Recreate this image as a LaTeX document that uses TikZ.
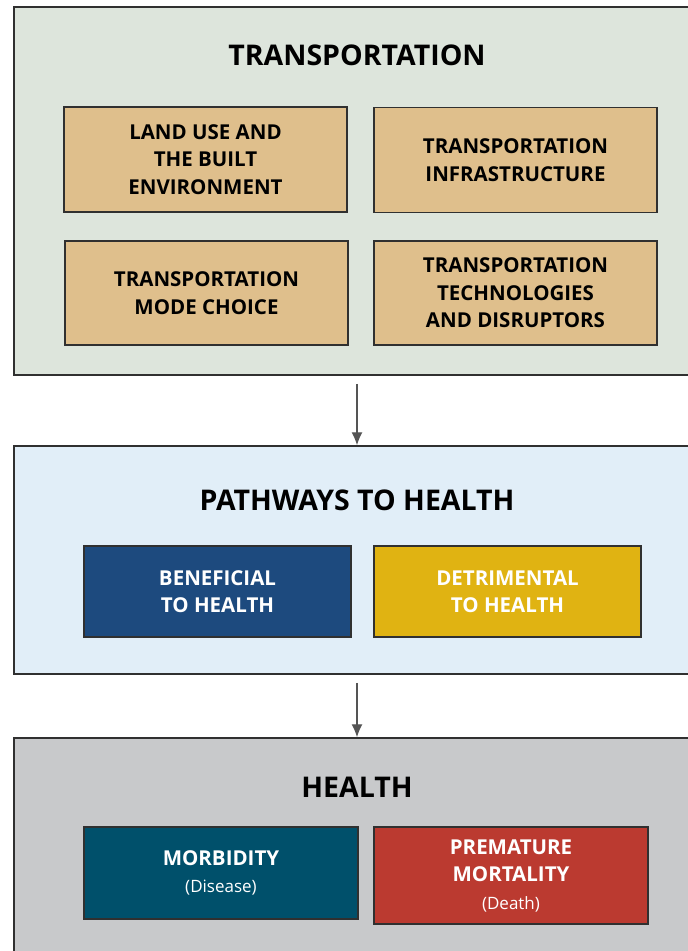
\documentclass[tikz,border=0pt]{standalone}
\usepackage{fontspec}
\usetikzlibrary{arrows.meta}
\setmainfont{Open Sans}
\definecolor{tgreen}{HTML}{DDE5DC}
\definecolor{ttan}{HTML}{DFBF8C}
\definecolor{pblue}{HTML}{E1EEF8}
\definecolor{bblue}{HTML}{1D4A7E}
\definecolor{dyel}{HTML}{E0B312}
\definecolor{hgray}{HTML}{C8C9CB}
\definecolor{mteal}{HTML}{00506B}
\definecolor{pred}{HTML}{BB3A30}
\definecolor{edge}{HTML}{303030}
\definecolor{arr}{HTML}{555555}
\begin{document}
\begin{tikzpicture}[x=1pt,y=-1pt,
  outer/.style={draw=edge,line width=1.5pt,minimum width=686pt,inner sep=0pt},
  title/.style={font=\fontsize{28.5}{32}\selectfont\bfseries,text=black},
  tanbox/.style={draw=edge,line width=1.4pt,fill=ttan,minimum width=283pt,minimum height=104pt,
    align=center,font=\fontsize{20.5}{27.5}\selectfont\bfseries,text=black,inner sep=0pt},
  colbox/.style={draw=edge,line width=1.4pt,align=center,
    font=\fontsize{20.5}{27.5}\selectfont\bfseries,text=white,inner sep=0pt},
  flow/.style={draw=arr,line width=1.3pt,-{Latex[length=13pt,width=11pt]},shorten <=8pt}
]
\useasboundingbox (0,0) rectangle (688,951);
\clip (0,0) rectangle (688,951);
\fill[white] (0,0) rectangle (688,951);

% outer panels
\node[outer,fill=tgreen,minimum height=368pt] (T) at (357,191) {};
\node[outer,fill=pblue,minimum height=228pt] (P) at (357,560) {};
\node[outer,fill=hgray,minimum height=222pt] (H) at (357,849) {};

% titles
\node[title] (tT) at (357,55) {TRANSPORTATION};
\node[title] (tP) at (357,500) {PATHWAYS TO HEALTH};
\node[title] (tH) at (357,787) {HEALTH};

% transportation boxes
\node[tanbox,minimum height=105pt] (lu) at (205.5,159.5) {LAND USE AND\\THE BUILT\\ENVIRONMENT};
\node[tanbox,minimum height=105pt] (ti) at (515.5,160) {TRANSPORTATION\\INFRASTRUCTURE};
\node[tanbox] (mc) at (206.5,293) {TRANSPORTATION\\MODE CHOICE};
\node[tanbox] (td) at (515.5,293) {TRANSPORTATION\\TECHNOLOGIES\\AND DISRUPTORS};

% pathways boxes
\node[colbox,fill=bblue,minimum width=267pt,minimum height=91pt] (bh) at (217.5,591.5) {BENEFICIAL\\TO HEALTH};
\node[colbox,fill=dyel,minimum width=267pt,minimum height=91pt] (dh) at (507.5,591.5) {DETRIMENTAL\\TO HEALTH};

% health boxes
\node[colbox,fill=mteal,minimum width=274pt,minimum height=92pt] (mo) at (221,873) {MORBIDITY\\{\fontsize{17}{22}\selectfont\mdseries (Disease)}};
\node[colbox,fill=pred,minimum width=274pt,minimum height=97pt] (pm) at (511,875.5) {PREMATURE\\MORTALITY\\{\fontsize{17}{22}\selectfont\mdseries (Death)}};

% arrows
\draw[flow] (T.south) -- (P.north);
\draw[flow] (P.south) -- (H.north);
\end{tikzpicture}
\end{document}
